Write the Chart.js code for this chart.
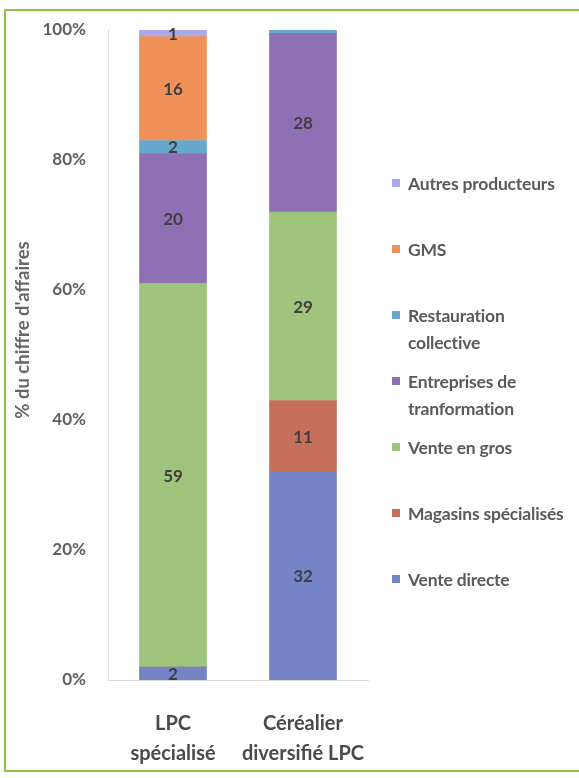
<!DOCTYPE html>
<html>
<head>
<meta charset="utf-8">
<script src="https://cdn.jsdelivr.net/npm/chart.js@4.4.1/dist/chart.umd.min.js"></script>
<style>
  html, body { margin: 0; padding: 0; background: #fff; }
  body { width: 579px; height: 778px; position: relative; overflow: hidden; font-family: Lato, "Noto Sans", sans-serif; }
  #frame { position: absolute; left: 4px; top: 9px; width: 640px; height: 763px; border: 2px solid #8fc24c; box-sizing: border-box; }
  #wrap { position: absolute; left: 0; top: 0; width: 579px; height: 778px; }
  #legend { position: absolute; left: 0; top: 0; }
  .li { position: absolute; left: 392px; color: #5a5a5a; font-size: 17.5px; font-weight: 700; line-height: 27px; white-space: nowrap; letter-spacing: -0.2px; }
  .li .box { position: absolute; left: 0; top: 9px; width: 8px; height: 8px; }
  .li .txt { position: absolute; left: 16px; top: 0; }
</style>
</head>
<body>
<div id="frame"></div>
<div id="wrap"><canvas id="c" width="579" height="778"></canvas></div>
<div id="legend"></div>
<script>
// ---- data ----
const categories = [["LPC", "spécialisé"], ["Céréalier", "diversifié LPC"]];
const seriesNames = ["Vente directe", "Magasins spécialisés", "Vente en gros", "Entreprises de tranformation", "Restauration collective", "GMS", "Autres producteurs"];
const legendLines = [["Vente directe"], ["Magasins spécialisés"], ["Vente en gros"], ["Entreprises de", "tranformation"], ["Restauration", "collective"], ["GMS"], ["Autres producteurs"]];
const venteDirecte = [2, 32];
const magasinsSpecialises = [0, 11];
const venteEnGros = [59, 29];
const entreprisesTransformation = [20, 27.5];
const restaurationCollective = [2, 0.5];
const gms = [16, 0];
const autresProducteurs = [1, 0];
const yTicks = [0, 20, 40, 60, 80, 100];
const yTitle = "% du chiffre d'affaires";

const seriesValues = [venteDirecte, magasinsSpecialises, venteEnGros, entreprisesTransformation, restaurationCollective, gms, autresProducteurs];
const colors = ["#7484c6", "#c76f5d", "#9fc47c", "#9070b4", "#67a9cc", "#ef9158", "#a9a9e9"];
const FONT = "Lato, 'Noto Sans', sans-serif";

const datasets = seriesNames.map((n, i) => ({
  label: n,
  data: seriesValues[i],
  backgroundColor: colors[i],
  borderWidth: 0,
  barThickness: 67
}));

const labelPlugin = {
  id: 'segLabels',
  afterDatasetsDraw(chart) {
    const ctx = chart.ctx;
    ctx.save();
    ctx.font = "bold 17px " + FONT;
    ctx.fillStyle = "#3f3f3f";
    ctx.textAlign = "center";
    ctx.textBaseline = "middle";
    chart.data.datasets.forEach((ds, di) => {
      const meta = chart.getDatasetMeta(di);
      meta.data.forEach((el, j) => {
        const v = ds.data[j];
        if (v >= 1) {
          ctx.fillText(String(Math.round(v)), el.x, (el.y + el.base) / 2 + 1);
        }
      });
    });
    // y axis title
    ctx.save();
    ctx.translate(23, 330);
    ctx.rotate(-Math.PI / 2);
    ctx.font = "bold 18.5px " + FONT;
    ctx.fillStyle = "#666666";
    ctx.fillText(yTitle, 0, 0);
    ctx.restore();
    ctx.restore();
  }
};

new Chart(document.getElementById('c'), {
  type: 'bar',
  data: { labels: categories, datasets },
  options: {
    responsive: false,
    animation: false,
    devicePixelRatio: 1,
    layout: { padding: { left: 0, right: 211, top: 30, bottom: 0 } },
    plugins: { legend: { display: false }, tooltip: { enabled: false } },
    scales: {
      x: {
        stacked: true,
        grid: { display: false },
        border: { display: true, color: "#d9d9d9", width: 1 },
        ticks: { color: "#4a4a4a", font: { family: FONT, size: 20, weight: 'bold', lineHeight: 1.5 }, padding: 21, maxRotation: 0, autoSkip: false },
        afterFit(s) { s.height = 98; }
      },
      y: {
        stacked: true,
        min: 0, max: 100,
        afterBuildTicks(s) { s.ticks = yTicks.map(v => ({ value: v })); },
        grid: { display: false },
        border: { display: true, color: "#d9d9d9", width: 1 },
        ticks: { color: "#606060", font: { family: FONT, size: 17, weight: 'bold' }, padding: 14, callback: v => v + "%" },
        afterFit(s) { s.width = 108; }
      }
    }
  },
  plugins: [labelPlugin]
});

// legend (reverse order, top of stack first)
const leg = document.getElementById('legend');
for (let k = 0; k < seriesNames.length; k++) {
  const i = seriesNames.length - 1 - k;
  const d = document.createElement('div');
  d.className = 'li';
  d.style.top = (183 - 13.5 + k * 66) + 'px';
  const b = document.createElement('span');
  b.className = 'box';
  b.style.background = colors[i];
  const t = document.createElement('span');
  t.className = 'txt';
  t.innerHTML = legendLines[i].join('<br>');
  d.appendChild(b); d.appendChild(t);
  leg.appendChild(d);
}
</script>
</body>
</html>
